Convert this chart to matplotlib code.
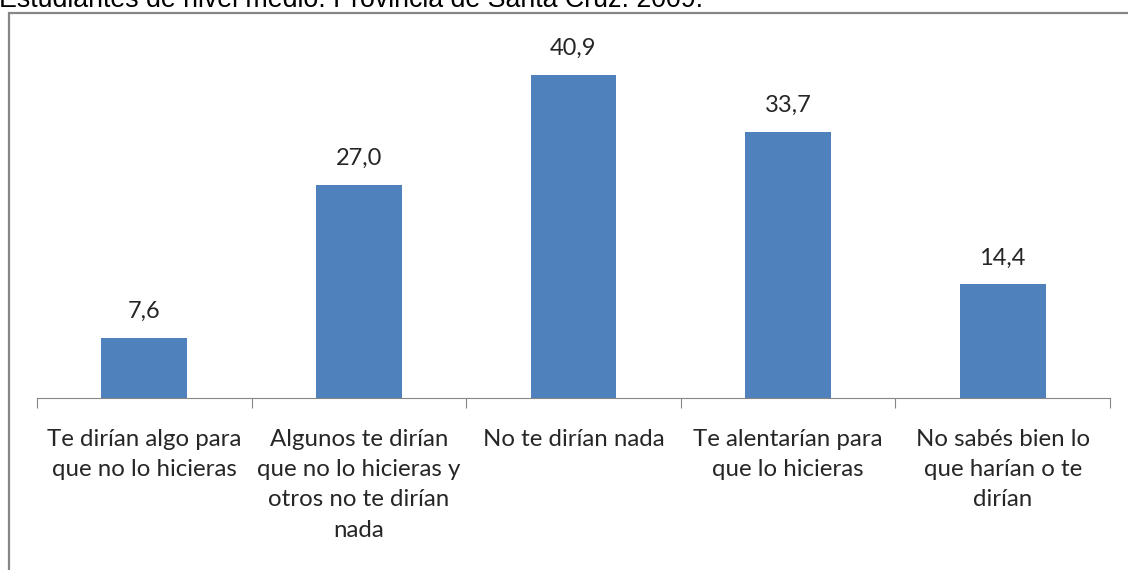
import numpy as np
import matplotlib.pyplot as plt
from matplotlib.patches import Rectangle

categorias = ["Te dirían algo para\nque no lo hicieras",
              "Algunos te dirían\nque no lo hicieras y\notros no te dirían\nnada",
              "No te dirían nada",
              "Te alentarían para\nque lo hicieras",
              "No sabés bien lo\nque harían o te\ndirían"]
valores = [7.6, 27.0, 40.9, 33.7, 14.4]
titulo = "Estudiantes de nivel medio. Provincia de Santa Cruz. 2009."

fig = plt.figure(figsize=(11.28, 5.70), dpi=100)
W, H = 1128, 570

# marco gris del gráfico
fig.patches.append(Rectangle((9 / W, -0.1), 1.2, (570 - 13) / H + 0.1, transform=fig.transFigure,
                             fill=False, edgecolor='#868686', linewidth=1.6))
fig.text(-1 / W, 1 - 7 / H, titulo, fontsize=19.3, family='Liberation Sans', va='baseline', ha='left')

ymax = 45
top_px = 398 - ymax * (323 / 40.9)
ax = fig.add_axes([37 / W, (570 - 398) / H, (1110 - 37) / W, (398 - top_px) / H])
x = np.arange(len(valores))
ax.bar(x, valores, width=0.4, color='#4f81bd')
ax.set_xlim(-0.5, len(valores) - 0.5)
ax.set_ylim(0, ymax)

for xi, v in zip(x, valores):
    ax.text(xi, v + 2.0, f"{v:.1f}".replace('.', ','), ha='center', va='bottom',
            fontsize=17, family='Lato', color='#262626')

for s in ['top', 'left', 'right']:
    ax.spines[s].set_visible(False)
ax.spines['bottom'].set_color('#868686')
ax.set_yticks([])
ax.set_xticks(np.arange(-0.5, len(valores)), minor=False)
ax.set_xticklabels([])
ax.tick_params(axis='x', which='major', length=7, color='#868686')
ax.set_xticks(x, minor=True)
ax.set_xticklabels(categorias, minor=True, fontsize=17.3, family='Lato', color='#262626',
                   linespacing=1.55)
ax.tick_params(axis='x', which='minor', length=0, pad=22)

fig.savefig('out.png', dpi=100)
